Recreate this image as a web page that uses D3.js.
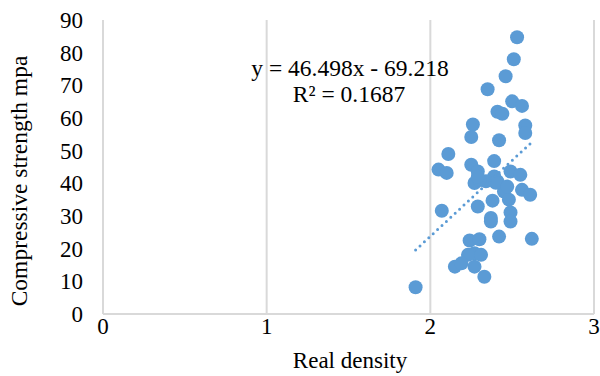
<!DOCTYPE html>
<html>
<head>
<meta charset="utf-8">
<script src="https://cdn.jsdelivr.net/npm/d3@7"></script>
<style>
  body { margin: 0; background: #fff; }
  text { font-family: "Liberation Serif", "Times New Roman", serif; fill: #000; }
</style>
</head>
<body>
<script>
// density vs strength
const density = [2.53, 2.51, 2.46, 2.35, 2.50, 2.56, 2.41, 2.44, 2.26, 2.58,
  2.58, 2.25, 2.42, 2.11, 2.39, 2.25, 2.05, 2.10, 2.29, 2.49,
  2.55, 2.39, 2.27, 2.34, 2.41, 2.45, 2.56, 2.61, 2.48, 2.38,
  2.29, 2.49, 2.07, 2.37, 2.49, 2.37, 2.42, 2.62, 2.24, 2.30,
  2.27, 2.31, 2.23, 2.15, 2.19, 2.27, 2.33, 1.91, 2.30, 2.40,
  2.29, 2.47];
const strength = [84.7, 78.0, 72.8, 68.8, 65.1, 63.7, 61.9, 61.3, 58.0, 57.7,
  55.4, 54.2, 53.2, 49.0, 46.8, 45.7, 44.2, 43.2, 43.6, 43.6,
  42.6, 42.1, 40.1, 40.6, 40.6, 37.5, 38.0, 36.5, 35.0, 34.7,
  32.9, 31.1, 31.6, 29.4, 28.3, 28.3, 23.7, 23.0, 22.5, 22.9,
  18.6, 18.1, 18.1, 14.5, 15.5, 14.5, 11.4, 8.2, 41.0, 40.2,
  42.0, 39.0];
const xTicks = [0, 1, 2, 3];
const yTicks = [0, 10, 20, 30, 40, 50, 60, 70, 80, 90];
const slope = 46.498, intercept = -69.218;
const eqLabel = "y = 46.498x - 69.218";
const r2Label = "R² = 0.1687";

const width = 600, height = 376;
const margin = {top: 20, right: 6, bottom: 62, left: 103};

const svg = d3.select("body").append("svg")
  .attr("width", width)
  .attr("height", height);

const x = d3.scaleLinear().domain([0, 3]).range([margin.left, width - margin.right]);
const y = d3.scaleLinear().domain([0, 90]).range([height - margin.bottom, margin.top]);

const points = density.map((d, i) => ({x: d, y: strength[i]}));

// vertical gridlines + left axis line
svg.append("g").selectAll("line")
  .data(xTicks)
  .join("line")
    .attr("x1", d => x(d)).attr("x2", d => x(d))
    .attr("y1", y(90)).attr("y2", y(0))
    .attr("stroke", "#d9d9d9")
    .attr("stroke-width", 2);

svg.append("line")
  .attr("x1", x(0)).attr("x2", x(3))
  .attr("y1", y(0)).attr("y2", y(0))
  .attr("stroke", "#d9d9d9")
  .attr("stroke-width", 2);

// tick labels
svg.append("g").selectAll("text")
  .data(yTicks)
  .join("text")
    .attr("x", x(0) - 20)
    .attr("y", d => y(d))
    .attr("dy", "0.35em")
    .attr("text-anchor", "end")
    .style("font-size", "23px")
    .text(d => d);

svg.append("g").selectAll("text")
  .data(xTicks)
  .join("text")
    .attr("x", d => x(d))
    .attr("y", y(0) + 20)
    .attr("text-anchor", "middle")
    .style("font-size", "23px")
    .text(d => d);

// markers
svg.append("g").selectAll("circle")
  .data(points)
  .join("circle")
    .attr("cx", d => x(d.x))
    .attr("cy", d => y(d.y))
    .attr("r", 7)
    .attr("fill", "#5b9bd5");

// dotted trendline over data range
const xr = d3.extent(density);
svg.append("line")
  .attr("x1", x(xr[0])).attr("y1", y(slope * xr[0] + intercept))
  .attr("x2", x(xr[1])).attr("y2", y(slope * xr[1] + intercept))
  .attr("stroke", "#5b9bd5")
  .attr("stroke-width", 3)
  .attr("stroke-linecap", "round")
  .attr("stroke-dasharray", "0,6");

// equation
svg.append("text")
  .attr("x", 350).attr("y", 76)
  .attr("text-anchor", "middle")
  .style("font-size", "23.5px")
  .text(eqLabel);
svg.append("text")
  .attr("x", 349).attr("y", 102)
  .attr("text-anchor", "middle")
  .style("font-size", "23.5px")
  .text(r2Label);

// axis titles
svg.append("text")
  .attr("x", 350).attr("y", 368)
  .attr("text-anchor", "middle")
  .style("font-size", "23px")
  .text("Real density");

svg.append("text")
  .attr("transform", "translate(27,181) rotate(-90)")
  .attr("text-anchor", "middle")
  .style("font-size", "23.5px")
  .text("Compressive strength mpa");
</script>
</body>
</html>
